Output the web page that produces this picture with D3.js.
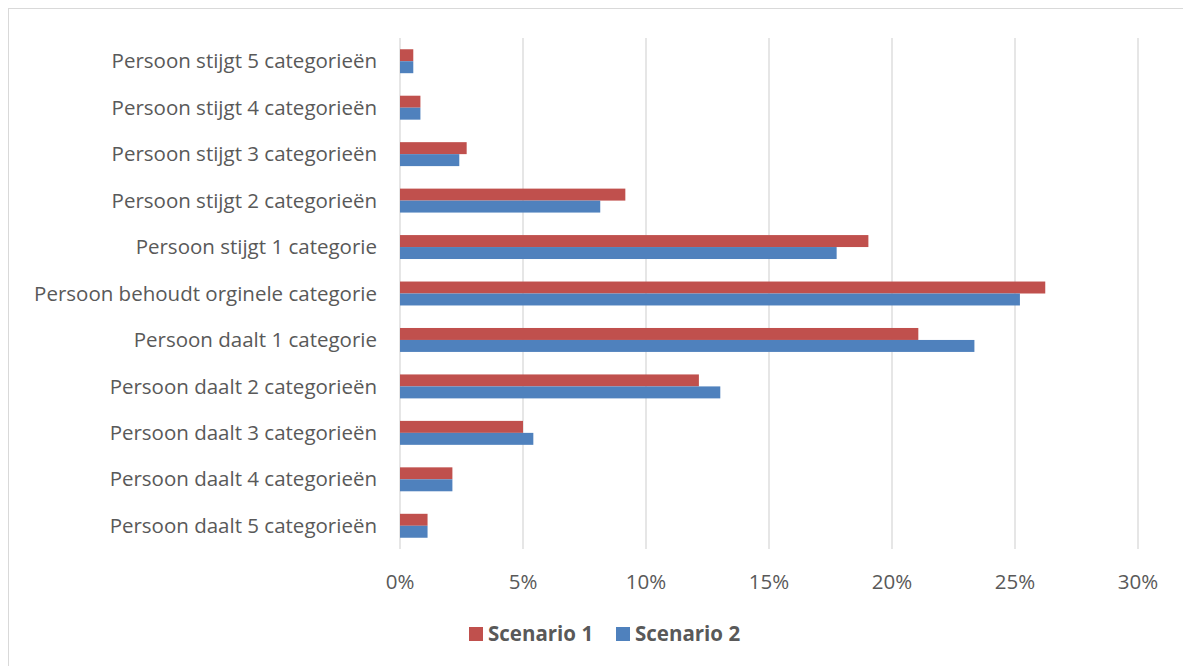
<!DOCTYPE html>
<html>
<head>
<meta charset="utf-8">
<script src="https://cdnjs.cloudflare.com/ajax/libs/d3/7.8.5/d3.min.js"></script>
<style>
  body { margin: 0; background: #fff; }
  svg { display: block; }
</style>
</head>
<body>
<svg></svg>
<script>
// categories top to bottom
var categories = [
  "Persoon stijgt 5 categorieën",
  "Persoon stijgt 4 categorieën",
  "Persoon stijgt 3 categorieën",
  "Persoon stijgt 2 categorieën",
  "Persoon stijgt 1 categorie",
  "Persoon behoudt orginele categorie",
  "Persoon daalt 1 categorie",
  "Persoon daalt 2 categorieën",
  "Persoon daalt 3 categorieën",
  "Persoon daalt 4 categorieën",
  "Persoon daalt 5 categorieën"
]
var seriesNames = ["Scenario 1", "Scenario 2"]
var scenario1 = [0.54, 0.83, 2.71, 9.16, 19.04, 26.23, 21.07, 12.15, 5.0, 2.13, 1.12]
var scenario2 = [0.54, 0.83, 2.41, 8.14, 17.75, 25.2, 23.35, 13.02, 5.42, 2.13, 1.12]
var xTicks = [0, 5, 10, 15, 20, 25, 30]
var colors = ["#C0504D", "#4F81BD"]

var screen = {width: 1183, height: 666}
var plot = {left: 400, right: 1138, top: 38, bottom: 549}
var font = "'Open Sans', Lato, sans-serif"
var fontSize = 20.5

var svg = d3.select("svg")
  .attr("width", screen.width)
  .attr("height", screen.height)

// chart frame (right and bottom edge are cut off in the picture)
svg.append("rect")
  .attr("x", 8.5).attr("y", 8.5)
  .attr("width", 1190).attr("height", 680)
  .attr("fill", "#fff")
  .attr("stroke", "#d9d9d9")
  .attr("stroke-width", 1)

var xScale = d3.scaleLinear()
  .domain([0, 30])
  .range([plot.left, plot.right])

var yScale = d3.scaleBand()
  .domain(categories)
  .range([plot.top, plot.bottom])

// Excel-ish gap width ~94%
var groupH = yScale.bandwidth() / 1.94
var barH = groupH / 2

// gridlines
svg.append("g")
  .selectAll("line")
  .data(xTicks)
  .enter()
  .append("line")
  .attr("x1", function(d) { return xScale(d) })
  .attr("x2", function(d) { return xScale(d) })
  .attr("y1", plot.top)
  .attr("y2", plot.bottom)
  .attr("stroke", "#d9d9d9")
  .attr("stroke-width", 1.3)

// tick labels
svg.append("g")
  .selectAll("text")
  .data(xTicks)
  .enter()
  .append("text")
  .attr("x", function(d) { return xScale(d) })
  .attr("y", 589)
  .attr("text-anchor", "middle")
  .attr("font-family", font)
  .attr("font-size", fontSize)
  .attr("fill", "#595959")
  .text(function(d) { return d + "%" })

// category labels
svg.append("g")
  .selectAll("text")
  .data(categories)
  .enter()
  .append("text")
  .attr("x", plot.left - 23)
  .attr("y", function(d) { return yScale(d) + yScale.bandwidth() / 2 })
  .attr("dy", "0.35em")
  .attr("text-anchor", "end")
  .attr("font-family", font)
  .attr("font-size", fontSize)
  .attr("fill", "#595959")
  .text(function(d) { return d })

// bars
var allSeries = [scenario1, scenario2]
allSeries.forEach(function(values, s)
{
  svg.append("g")
    .selectAll("rect")
    .data(values)
    .enter()
    .append("rect")
    .attr("x", xScale(0))
    .attr("y", function(d, i)
    {
      var c = yScale(categories[i]) + yScale.bandwidth() / 2
      return c - groupH / 2 + s * barH
    })
    .attr("width", function(d) { return xScale(d) - xScale(0) })
    .attr("height", barH)
    .attr("fill", colors[s])
})

// legend
var legendX = [469, 616]
var legend = svg.append("g")
  .selectAll("g")
  .data(seriesNames)
  .enter()
  .append("g")
  .attr("transform", function(d, i) { return "translate(" + legendX[i] + ",627)" })
legend.append("rect")
  .attr("width", 14).attr("height", 14)
  .attr("fill", function(d, i) { return colors[i] })
legend.append("text")
  .attr("x", 19)
  .attr("y", 7)
  .attr("dy", "0.35em")
  .attr("font-family", font)
  .attr("font-weight", "bold")
  .attr("font-size", fontSize)
  .attr("fill", "#595959")
  .text(function(d) { return d })
</script>
</body>
</html>
